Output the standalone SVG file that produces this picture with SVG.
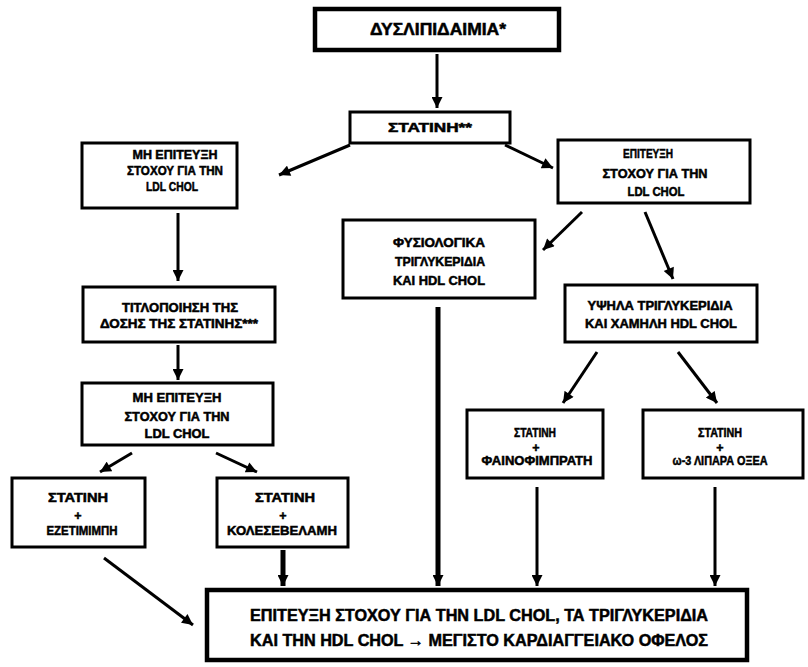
<svg xmlns="http://www.w3.org/2000/svg" width="808" height="667" viewBox="0 0 808 667">
  <style>
    .box { fill: #fff; stroke: #000; stroke-width: 3; }
    .box-heavy { fill: #fff; stroke: #000; stroke-width: 4.5; }
    text { font-family: "Liberation Sans", Arial, sans-serif; font-weight: 900; fill: #000; stroke: #000; stroke-width: 0.5; text-anchor: middle; }
    .t { font-size: 12.5px; }
    .tl { font-size: 16px; }
    .conn { stroke: #000; stroke-width: 3; fill: none; marker-end: url(#head); }
    .conn-thick { stroke: #000; stroke-width: 5; fill: none; marker-end: url(#head); }
  </style>
  <defs>
    <marker id="head" viewBox="0 0 10 10" refX="10" refY="5" markerWidth="12" markerHeight="11" markerUnits="userSpaceOnUse" orient="auto">
      <path d="M0,0 L10,5 L0,10 z" fill="#000"/>
    </marker>
  </defs>
  <rect width="808" height="667" fill="#fff"/>

  <!-- connectors -->
  <g id="connectors">
    <line class="conn" x1="437" y1="54" x2="437" y2="108"/>
    <line class="conn" x1="350" y1="145" x2="279" y2="175"/>
    <line class="conn" x1="505" y1="145" x2="553" y2="168"/>
    <line class="conn" x1="178" y1="213" x2="178" y2="281"/>
    <line class="conn" x1="178" y1="345" x2="178" y2="380"/>
    <line class="conn" x1="132" y1="453" x2="100" y2="472"/>
    <line class="conn" x1="216" y1="453" x2="257" y2="472"/>
    <line class="conn" x1="582" y1="212" x2="543" y2="250"/>
    <line class="conn" x1="645" y1="212" x2="673" y2="279"/>
    <line class="conn" x1="597" y1="352" x2="563" y2="403"/>
    <line class="conn" x1="678" y1="352" x2="717" y2="403"/>
    <line class="conn-thick" x1="438" y1="307" x2="438" y2="586"/>
    <line class="conn" x1="104" y1="558" x2="193" y2="625"/>
    <line class="conn-thick" x1="283" y1="550" x2="283" y2="586"/>
    <line class="conn" x1="537" y1="487" x2="537" y2="586"/>
    <line class="conn" x1="715" y1="487" x2="715" y2="586"/>
  </g>

  <g id="dyslipidaimia">
    <rect class="box-heavy" x="315" y="9" width="244" height="41"/>
    <text class="tl" x="438" y="35" textLength="136" lengthAdjust="spacingAndGlyphs">ΔΥΣΛΙΠΙΔΑΙΜΙΑ*</text>
  </g>

  <g id="statini">
    <rect class="box" x="350" y="112" width="160" height="31"/>
    <text class="t" x="430" y="132" textLength="84" lengthAdjust="spacingAndGlyphs">ΣΤΑΤΙΝΗ**</text>
  </g>

  <g id="mi-epiteyxi-1">
    <rect class="box" x="82" y="143" width="155" height="65"/>
    <text class="t" x="175" y="159" textLength="85" lengthAdjust="spacingAndGlyphs">ΜΗ ΕΠΙΤΕΥΞΗ</text>
    <text class="t" x="175" y="175" textLength="96" lengthAdjust="spacingAndGlyphs">ΣΤΟΧΟΥ ΓΙΑ ΤΗΝ</text>
    <text class="t" x="172" y="191" textLength="52" lengthAdjust="spacingAndGlyphs">LDL CHOL</text>
  </g>

  <g id="epiteyxi">
    <rect class="box" x="558" y="140" width="192" height="63"/>
    <text class="t" x="648" y="158" textLength="50" lengthAdjust="spacingAndGlyphs">ΕΠΙΤΕΥΞΗ</text>
    <text class="t" x="655" y="178" textLength="105" lengthAdjust="spacingAndGlyphs">ΣΤΟΧΟΥ ΓΙΑ ΤΗΝ</text>
    <text class="t" x="656" y="196" textLength="57" lengthAdjust="spacingAndGlyphs">LDL CHOL</text>
  </g>

  <g id="fysiologika">
    <rect class="box" x="343" y="220" width="192" height="78"/>
    <text class="t" x="439" y="247" textLength="92" lengthAdjust="spacingAndGlyphs">ΦΥΣΙΟΛΟΓΙΚΑ</text>
    <text class="t" x="440" y="266" textLength="90" lengthAdjust="spacingAndGlyphs">ΤΡΙΓΛΥΚΕΡΙΔΙΑ</text>
    <text class="t" x="439" y="285" textLength="92" lengthAdjust="spacingAndGlyphs">ΚΑΙ HDL CHOL</text>
  </g>

  <g id="titlopoiisi">
    <rect class="box" x="83" y="287" width="192" height="55"/>
    <text class="t" x="180" y="312" textLength="116" lengthAdjust="spacingAndGlyphs">ΤΙΤΛΟΠΟΙΗΣΗ ΤΗΣ</text>
    <text class="t" x="179" y="328" textLength="158" lengthAdjust="spacingAndGlyphs">ΔΟΣΗΣ ΤΗΣ ΣΤΑΤΙΝΗΣ***</text>
  </g>

  <g id="ypsila">
    <rect class="box" x="565" y="285" width="192" height="57"/>
    <text class="t" x="660" y="310" textLength="145" lengthAdjust="spacingAndGlyphs">ΥΨΗΛΑ ΤΡΙΓΛΥΚΕΡΙΔΙΑ</text>
    <text class="t" x="661" y="328" textLength="152" lengthAdjust="spacingAndGlyphs">ΚΑΙ ΧΑΜΗΛΗ HDL CHOL</text>
  </g>

  <g id="mi-epiteyxi-2">
    <rect class="box" x="82" y="383" width="191" height="62"/>
    <text class="t" x="177" y="402" textLength="89" lengthAdjust="spacingAndGlyphs">ΜΗ ΕΠΙΤΕΥΞΗ</text>
    <text class="t" x="177" y="421" textLength="105" lengthAdjust="spacingAndGlyphs">ΣΤΟΧΟΥ ΓΙΑ ΤΗΝ</text>
    <text class="t" x="177" y="438" textLength="65" lengthAdjust="spacingAndGlyphs">LDL CHOL</text>
  </g>

  <g id="statini-ezetimimpi">
    <rect class="box" x="12" y="478" width="133" height="69"/>
    <text class="t" x="78" y="502" textLength="60" lengthAdjust="spacingAndGlyphs">ΣΤΑΤΙΝΗ</text>
    <text class="t" x="78" y="520">+</text>
    <text class="t" x="82" y="535" textLength="71" lengthAdjust="spacingAndGlyphs">ΕΖΕΤΙΜΙΜΠΗ</text>
  </g>

  <g id="statini-kolesevelami">
    <rect class="box" x="217" y="478" width="131" height="69"/>
    <text class="t" x="285" y="502" textLength="60" lengthAdjust="spacingAndGlyphs">ΣΤΑΤΙΝΗ</text>
    <text class="t" x="283" y="520">+</text>
    <text class="t" x="282" y="535" textLength="110" lengthAdjust="spacingAndGlyphs">ΚΟΛΕΣΕΒΕΛΑΜΗ</text>
  </g>

  <g id="statini-fainofimprati">
    <rect class="box" x="467" y="410" width="136" height="68"/>
    <text class="t" x="535" y="437" textLength="42" lengthAdjust="spacingAndGlyphs">ΣΤΑΤΙΝΗ</text>
    <text class="t" x="536" y="452">+</text>
    <text class="t" x="537" y="465" textLength="111" lengthAdjust="spacingAndGlyphs">ΦΑΙΝΟΦΙΜΠΡΑΤΗ</text>
  </g>

  <g id="statini-omega3">
    <rect class="box" x="643" y="410" width="160" height="68"/>
    <text class="t" x="720" y="437" textLength="44" lengthAdjust="spacingAndGlyphs">ΣΤΑΤΙΝΗ</text>
    <text class="t" x="720" y="452">+</text>
    <text class="t" x="720" y="465" textLength="95" lengthAdjust="spacingAndGlyphs">ω-3 ΛΙΠΑΡΑ ΟΞΕΑ</text>
  </g>

  <g id="ofelos">
    <rect class="box-heavy" x="207" y="590" width="540" height="70"/>
    <text class="tl" x="479" y="621" textLength="458" lengthAdjust="spacingAndGlyphs">ΕΠΙΤΕΥΞΗ ΣΤΟΧΟΥ ΓΙΑ ΤΗΝ LDL CHOL, ΤΑ ΤΡΙΓΛΥΚΕΡΙΔΙΑ</text>
    <text class="tl" x="479" y="646" textLength="458" lengthAdjust="spacingAndGlyphs">ΚΑΙ ΤΗΝ HDL CHOL → ΜΕΓΙΣΤΟ ΚΑΡΔΙΑΓΓΕΙΑΚΟ ΟΦΕΛΟΣ</text>
  </g>
</svg>
